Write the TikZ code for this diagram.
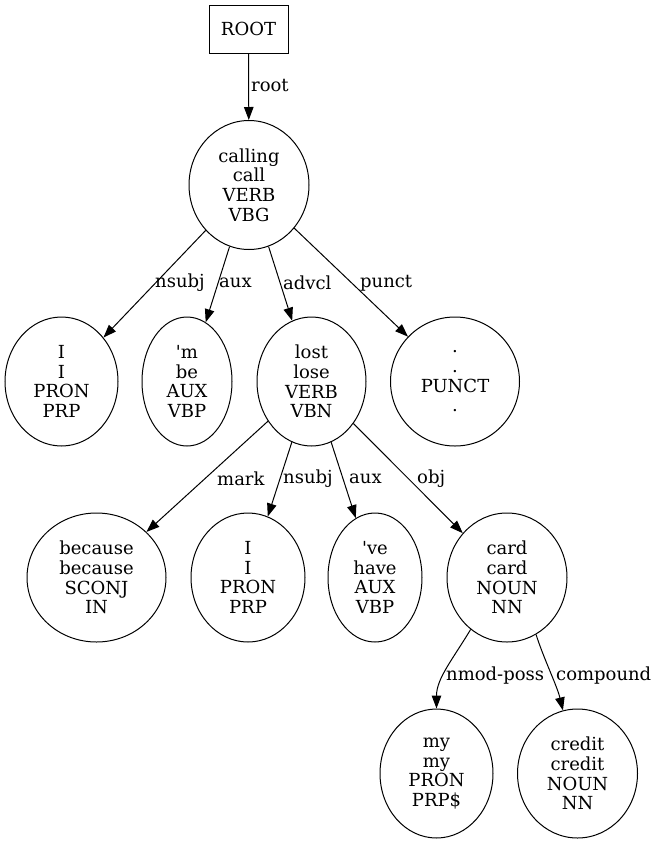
\documentclass[tikz,border=0pt]{standalone}
\usepackage{fontspec}
\setmainfont{DejaVu Serif}
\usetikzlibrary{shapes.geometric,arrows.meta}
\tikzset{
  txt/.style={font=\fontsize{18}{19.7}\selectfont},
  tok/.style={txt,ellipse,draw,line width=1pt,inner sep=0pt,align=center,minimum height=129pt},
  dep/.style={-{Triangle[length=13pt,width=9.5pt]},line width=1pt},
  lbl/.style={txt,anchor=west,inner sep=0pt},
}
\begin{document}
\begin{tikzpicture}[x=1pt,y=-1pt]
\useasboundingbox (0,0) rectangle (659,844);
\node[txt,draw,line width=1pt,minimum width=79pt,minimum height=48pt] (root) at (248.5,29) {ROOT};
% tokens
\foreach \n/\x/\y/\w/\t in {calling/249/185/120/calling\\call\\VERB\\VBG,
    I1/61.5/381.5/113/I\\I\\PRON\\PRP, m/187/381.5/90/\textquotesingle m\\be\\AUX\\VBP,
    lost/311.5/381.5/109/lost\\lose\\VERB\\VBN, punct/455/381.5/129/.\\.\\PUNCT\\.,
    because/96.5/577.5/139/because\\because\\SCONJ\\IN, I2/248/577.5/114/I\\I\\PRON\\PRP,
    ve/375/577.5/94/\textquotesingle ve\\have\\AUX\\VBP, card/507/577.5/120/card\\card\\NOUN\\NN,
    my/436.5/773.5/113/my\\my\\PRON\\PRP\$, credit/577.5/773.5/120/credit\\credit\\NOUN\\NN}
  \node[tok,minimum width=\w pt] (\n) at (\x,\y) {\t};
% dependencies
\foreach \a/\b/\t/\x/\y in {root/calling/root/251/86,
    calling/I1/nsubj/155/283, calling/m/aux/219/283, calling/lost/advcl/283/283,
    calling/punct/punct/360/283, lost/because/mark/217/479, lost/I2/nsubj/283/479,
    lost/ve/aux/349/479, lost/card/obj/417/479}{
  \draw[dep] (\a) -- (\b);
  \node[lbl] (l-\b) at (\x,\y) {\t};
}
\draw[dep] (card.-125) .. controls +(-18,30) and +(0,-30) .. (my.north);
\node[lbl] (l-my) at (446,676) {nmod-poss};
\draw[dep] (card.-63) .. controls +(8,25) and +(-6,-25) .. (credit.103);
\node[lbl] (l-credit) at (556,676) {compound};
\end{tikzpicture}
\end{document}
